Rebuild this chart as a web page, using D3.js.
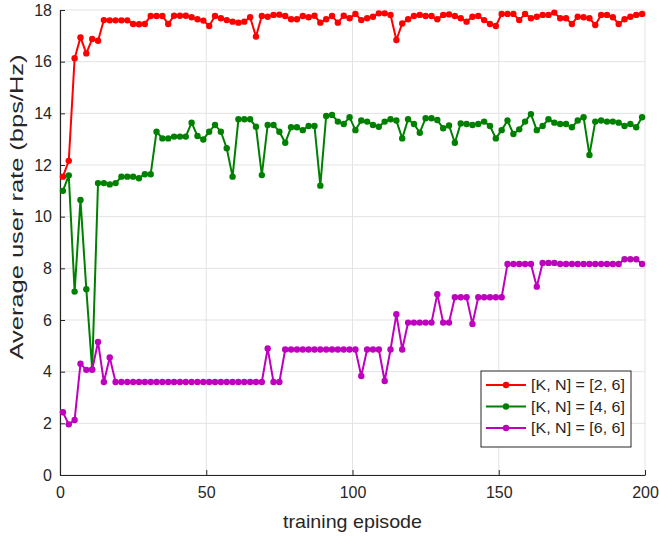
<!DOCTYPE html>
<html>
<head>
<meta charset="utf-8">
<script src="https://cdn.jsdelivr.net/npm/d3@7"></script>
<style>
  body { margin: 0; background: #fff; }
  text { font-family: "Liberation Sans", Arial, sans-serif; fill: #262626; }
</style>
</head>
<body>
<div id="chart"></div>
<script>
// episodes 1,3,...,199
const episodes = d3.range(1, 200, 2);

const rateK2 = [11.55, 12.16, 16.13, 16.94, 16.32, 16.88, 16.81, 17.61, 17.6, 17.6,
  17.6, 17.6, 17.46, 17.45, 17.46, 17.77, 17.77, 17.77, 17.46, 17.78,
  17.78, 17.78, 17.72, 17.64, 17.59, 17.38, 17.77, 17.68, 17.61, 17.55,
  17.51, 17.55, 17.72, 16.97, 17.77, 17.74, 17.81, 17.82, 17.77, 17.64,
  17.64, 17.77, 17.72, 17.78, 17.51, 17.64, 17.77, 17.51, 17.78, 17.68,
  17.85, 17.61, 17.68, 17.74, 17.87, 17.87, 17.81, 16.84, 17.48, 17.64,
  17.77, 17.81, 17.77, 17.77, 17.64, 17.81, 17.83, 17.77, 17.68, 17.55,
  17.74, 17.77, 17.61, 17.46, 17.38, 17.85, 17.85, 17.85, 17.61, 17.85,
  17.68, 17.74, 17.81, 17.81, 17.9, 17.68, 17.68, 17.46, 17.74, 17.72,
  17.68, 17.42, 17.81, 17.81, 17.72, 17.46, 17.64, 17.74, 17.81, 17.85];

const rateK4 = [11.0, 11.6, 7.1, 10.65, 7.19, 4.09, 11.3, 11.3, 11.25, 11.3,
  11.55, 11.55, 11.55, 11.49, 11.64, 11.64, 13.29, 13.03, 13.03, 13.1,
  13.1, 13.1, 13.64, 13.12, 12.99, 13.29, 13.55, 13.29, 12.65, 11.55,
  13.77, 13.77, 13.77, 13.48, 11.61, 13.55, 13.55, 13.29, 12.86, 13.46,
  13.46, 13.35, 13.51, 13.51, 11.2, 13.9, 13.94, 13.68, 13.59, 13.85,
  13.35, 13.72, 13.68, 13.55, 13.48, 13.68, 13.77, 13.72, 13.03, 13.77,
  13.59, 13.25, 13.81, 13.81, 13.74, 13.42, 13.53, 12.86, 13.61, 13.59,
  13.55, 13.59, 13.68, 13.51, 13.03, 13.35, 13.72, 13.2, 13.38, 13.68,
  13.97, 13.35, 13.51, 13.77, 13.64, 13.59, 13.59, 13.46, 13.72, 13.85,
  12.39, 13.68, 13.72, 13.68, 13.68, 13.64, 13.51, 13.59, 13.46, 13.85];

const rateK6 = [2.43, 1.96, 2.13, 4.31, 4.07, 4.07, 5.15, 3.6, 4.55, 3.6,
  3.6, 3.6, 3.6, 3.6, 3.6, 3.6, 3.6, 3.6, 3.6, 3.6,
  3.6, 3.6, 3.6, 3.6, 3.6, 3.6, 3.6, 3.6, 3.6, 3.6,
  3.6, 3.6, 3.6, 3.6, 3.6, 4.9, 3.6, 3.6, 4.86, 4.86,
  4.86, 4.86, 4.86, 4.86, 4.86, 4.86, 4.86, 4.86, 4.86, 4.86,
  4.86, 3.83, 4.86, 4.86, 4.86, 3.64, 4.86, 6.22, 4.86, 5.9,
  5.9, 5.9, 5.9, 5.9, 7.0, 5.9, 5.9, 6.88, 6.88, 6.88,
  5.85, 6.88, 6.88, 6.88, 6.88, 6.88, 8.17, 8.17, 8.17, 8.17,
  8.17, 7.29, 8.21, 8.21, 8.21, 8.17, 8.17, 8.17, 8.17, 8.17,
  8.17, 8.17, 8.17, 8.17, 8.17, 8.17, 8.35, 8.35, 8.35, 8.17];

const seriesNames = ["[K, N] = [2, 6]", "[K, N] = [4, 6]", "[K, N] = [6, 6]"];
const seriesColors = ["#ff0000", "#008000", "#bf00bf"];
const xTicks = [0, 50, 100, 150, 200];
const yTicks = [0, 2, 4, 6, 8, 10, 12, 14, 16, 18];

const series = [rateK2, rateK4, rateK6].map((vals, k) => ({
    name: seriesNames[k],
    color: seriesColors[k],
    points: vals.map((v, i) => ({x: episodes[i], y: v}))
}));

const W = 659, H = 536;
const margin = {top: 10, right: 14, bottom: 61, left: 60};
const width = W - margin.left - margin.right,
      height = H - margin.top - margin.bottom;

const svg = d3.select("#chart").append("svg")
    .attr("width", W).attr("height", H);
const g = svg.append("g")
    .attr("transform", "translate(" + margin.left + "," + margin.top + ")");

const x = d3.scaleLinear().domain([0, 200]).range([0, width]);
const y = d3.scaleLinear().domain([0, 18]).range([height, 0]);

// grid
g.append("g").selectAll("line").data(xTicks).enter().append("line")
    .attr("x1", d => x(d)).attr("x2", d => x(d))
    .attr("y1", 0).attr("y2", height)
    .attr("stroke", "#e3e3e3").attr("stroke-width", 1);
g.append("g").selectAll("line").data(yTicks).enter().append("line")
    .attr("x1", 0).attr("x2", width)
    .attr("y1", d => y(d)).attr("y2", d => y(d))
    .attr("stroke", "#e3e3e3").attr("stroke-width", 1);

// axes
const xAxis = g.append("g")
    .attr("transform", "translate(0," + height + ")")
    .call(d3.axisBottom(x).tickValues(xTicks).tickSizeInner(-5).tickSizeOuter(0).tickPadding(12));
const yAxis = g.append("g")
    .call(d3.axisLeft(y).tickValues(yTicks).tickSizeInner(-5).tickSizeOuter(0).tickPadding(8));
[xAxis, yAxis].forEach(a => {
    a.select(".domain").attr("stroke", "#262626").attr("stroke-width", 1.2);
    a.selectAll(".tick line").attr("stroke", "#262626");
    a.selectAll("text").style("font-size", "16px").attr("fill", "#262626")
        .style("font-family", "'Liberation Sans', Arial, sans-serif");
});

// lines + markers
const line = d3.line().x(d => x(d.x)).y(d => y(d.y));
series.forEach(s => {
    g.append("path").datum(s.points)
        .attr("fill", "none").attr("stroke", s.color)
        .attr("stroke-width", 2).attr("d", line);
    g.append("g").selectAll("circle").data(s.points).enter().append("circle")
        .attr("cx", d => x(d.x)).attr("cy", d => y(d.y))
        .attr("r", 3.2).attr("fill", s.color);
});

// axis labels
svg.append("text")
    .attr("x", margin.left + width / 2).attr("y", 528)
    .attr("text-anchor", "middle")
    .attr("textLength", 139).attr("lengthAdjust", "spacingAndGlyphs")
    .style("font-size", "19px")
    .text("training episode");
svg.append("text")
    .attr("transform", "translate(23,207)rotate(-90)")
    .attr("text-anchor", "middle")
    .attr("textLength", 305).attr("lengthAdjust", "spacingAndGlyphs")
    .style("font-size", "19px")
    .text("Average user rate (bps/Hz)");

// legend
const lg = svg.append("g").attr("transform", "translate(481,371)");
lg.append("rect").attr("width", 150).attr("height", 76)
    .attr("fill", "#fff").attr("stroke", "#262626").attr("stroke-width", 1);
series.forEach((s, k) => {
    const ly = 14 + k * 21.5;
    lg.append("line").attr("x1", 5).attr("x2", 45).attr("y1", ly).attr("y2", ly)
        .attr("stroke", s.color).attr("stroke-width", 2);
    lg.append("circle").attr("cx", 25).attr("cy", ly).attr("r", 3.2).attr("fill", s.color);
    lg.append("text").attr("x", 50).attr("y", ly + 5)
        .attr("textLength", 94).attr("lengthAdjust", "spacingAndGlyphs")
        .style("font-size", "15px").text(s.name);
});
</script>
</body>
</html>
